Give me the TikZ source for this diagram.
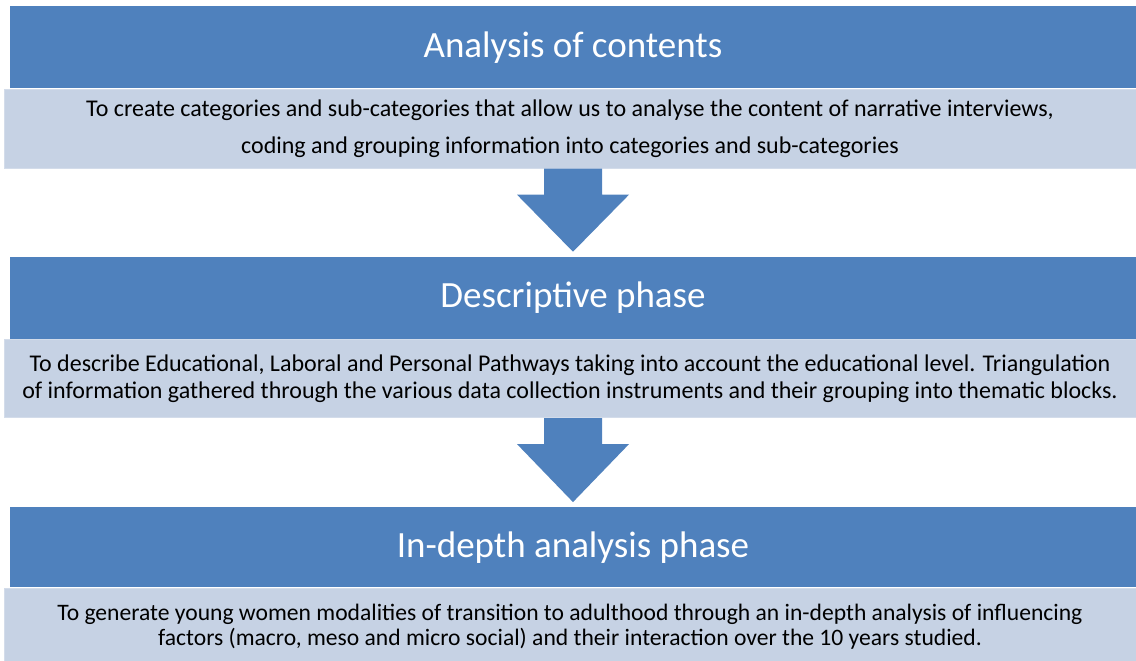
\documentclass[tikz,border=0pt]{standalone}
\usepackage{fontspec}
\setmainfont{Carlito}
\usetikzlibrary{
  positioning,
  calc
}
\definecolor{phaseblue}{HTML}{4F81BD}
\definecolor{phaselight}{HTML}{C6D2E4}
\definecolor{phaseedge}{HTML}{D3DCEA}
\newcommand{\phasearrow}[2]{%
  \fill[phaseblue]
    ($(#1.south -| #2.north)+(-29,0)$) -- ++(0,-26) -- ++(-27,0)
    -- ($(#2.north)+(0,5)$)
    -- ($(#1.south -| #2.north)+(56,-26)$) -- ++(-27,0)
    -- ($(#1.south -| #2.north)+(29,0)$) -- cycle;}
\tikzset{
  header/.style={
    fill=phaseblue,
    text=white,
    font=\fontsize{37}{44}\selectfont,
    minimum width=1126pt,
    minimum height=82pt,
    inner sep=0pt,
  },
  detail/.style={
    fill=phaselight,
    draw=phaseedge,
    line width=1pt,
    text=black,
    font=\fontsize{24}{27}\selectfont,
    align=center,
    minimum width=1132pt,
    minimum height=78pt,
    inner sep=0pt,
  },
}

\begin{document}
\begin{tikzpicture}[x=1pt, y=1pt]

\useasboundingbox (0,0) rectangle (1136,-661);

% === PHASE 1 ===

\node[header] (head1) at (573,-47.5) {Analysis of contents};

\node[detail, below=0pt of head1, xshift=-3pt, minimum height=79pt]
  (txt1) {To create categories and sub-categories that allow us to analyse the content of narrative interviews,\\[10pt]
  coding and grouping information into categories and sub-categories};

% === PHASE 2 ===

\node[header, below=88pt of txt1, xshift=3pt] (head2) {Descriptive phase};

\node[detail, below=0pt of head2, xshift=-3pt]
  (txt2) {To describe Educational, Laboral and Personal Pathways taking into account the educational level. Triangulation\\
  of information gathered through the various data collection instruments and their grouping into thematic blocks.};

% === PHASE 3 ===

\node[header, below=89pt of txt2, xshift=3pt, minimum height=80pt] (head3) {In-depth analysis phase};

\node[detail, below=0pt of head3, xshift=-3pt, minimum height=77pt, font=\fontsize{23.6}{25}\selectfont]
  (txt3) {To generate young women modalities of transition to adulthood through an in-depth analysis of influencing\\
  factors (macro, meso and micro social) and their interaction over the 10 years studied.};

% Block arrows between phases
\phasearrow{txt1}{head2}
\phasearrow{txt2}{head3}

\end{tikzpicture}
\end{document}
